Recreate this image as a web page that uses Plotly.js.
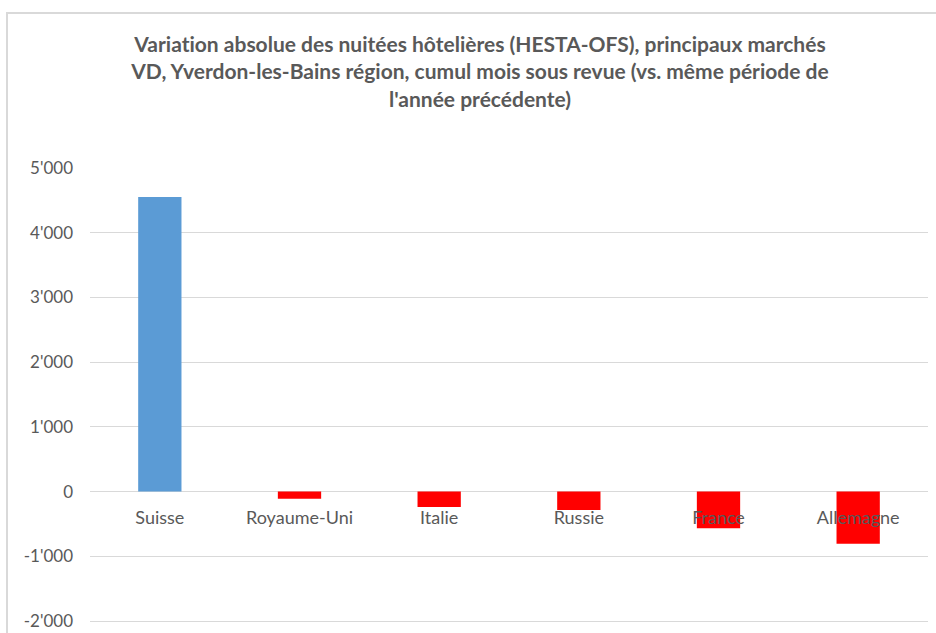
<!DOCTYPE html>
<html>
<head>
<meta charset="utf-8">
<script src="https://cdn.plot.ly/plotly-3.0.1.min.js"></script>
<style>html,body{margin:0;padding:0;background:#fff;}#chart{width:936px;height:633px;}
text{font-variant-ligatures:none !important;font-feature-settings:"liga" 0, "clig" 0 !important;}</style>
</head>
<body>
<div id="chart"></div>
<script>
const categories = ["Suisse", "Royaume-Uni", "Italie", "Russie", "France", "Allemagne"];
const values = [4550, -110, -240, -285, -565, -805];
const tickValues = [-2000, -1000, 0, 1000, 2000, 3000, 4000, 5000];
const tickLabels = ["-2'000", "-1'000", "0", "1'000", "2'000", "3'000", "4'000", "5'000"];
const titleText = "Variation absolue des nuitées hôtelières (HESTA-OFS), principaux marchés<br>VD, Yverdon-les-Bains région, cumul mois sous revue (vs. même période de<br>l'année précédente)";

const colors = values.map(v => v >= 0 ? "#5B9BD5" : "#FF0000");
const yRange = [-2185, 5000];
const zeroPos = (0 - yRange[0]) / (yRange[1] - yRange[0]);

const W = 936, H = 633, ml = 90, mr = 8, mt = 168, mb = 0;
const pw = W - ml - mr, ph = H - mt - mb;

const trace = {
  type: "bar",
  x: categories,
  y: values,
  marker: {color: colors},
  hoverinfo: "x+y"
};

const font = "Lato, 'Open Sans', sans-serif";

const layout = {
  width: W, height: H,
  margin: {l: ml, r: mr, t: mt, b: mb, pad: 0},
  paper_bgcolor: "#ffffff",
  plot_bgcolor: "#ffffff",
  showlegend: false,
  bargap: 0.69,
  title: {
    text: titleText,
    font: {family: font, size: 21, color: "#595959", weight: "bold"},
    x: 480 / W, xref: "container", xanchor: "center",
    y: 1 - 52 / H, yref: "container", yanchor: "top"
  },
  xaxis: {
    type: "category",
    anchor: "free",
    position: zeroPos,
    showline: false,
    showgrid: false,
    zeroline: false,
    ticks: "",
    ticklabelstandoff: 13,
    tickfont: {family: font, size: 18, color: "#595959"},
    fixedrange: true
  },
  yaxis: {
    range: yRange,
    tickvals: tickValues,
    ticktext: tickLabels,
    showgrid: true,
    gridcolor: "#d9d9d9",
    gridwidth: 1,
    zeroline: true,
    zerolinecolor: "#d9d9d9",
    zerolinewidth: 1,
    showline: false,
    ticks: "",
    ticklabelstandoff: 16,
    tickfont: {family: font, size: 17, color: "#595959"},
    fixedrange: true
  },
  shapes: [{
    type: "rect", xref: "paper", yref: "paper",
    x0: (7 - ml) / pw, x1: (W + 5 - ml) / pw,
    y0: -0.2, y1: (H - 13) / ph,
    line: {color: "#d9d9d9", width: 2},
    fillcolor: "rgba(0,0,0,0)",
    layer: "below"
  }]
};

Plotly.newPlot("chart", [trace], layout, {displayModeBar: false, staticPlot: true});
</script>
</body>
</html>
